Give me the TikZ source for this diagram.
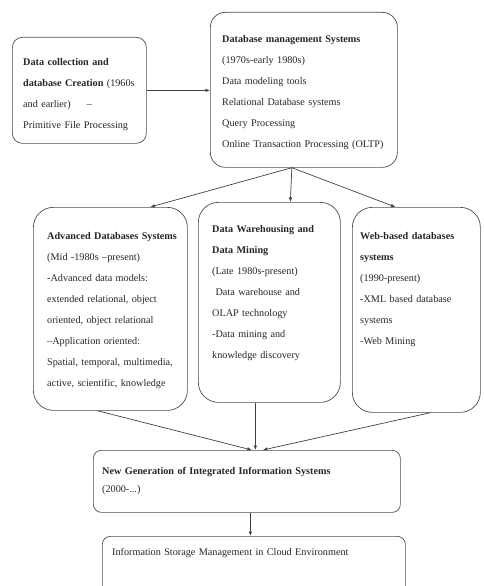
\documentclass[tikz,border=0pt]{standalone}
\usepackage{fontspec}
\setmainfont{Liberation Serif}
\usetikzlibrary{arrows.meta}

\tikzset{
  stage/.style={draw=black!70, line width=0.7pt, anchor=north west, inner sep=0pt},
  stagetext/.style={anchor=north west, inner sep=0pt, align=left, text width=330pt,
    font=\fontsize{10.2}{21}\selectfont, text=black!85},
  link/.style={draw=black!75, line width=0.7pt, -{Latex[length=4.5pt,width=3.6pt]}}
}

\begin{document}
\begin{tikzpicture}[x=1pt,y=-1pt]
\useasboundingbox (0,0) rectangle (483,586);
\clip (0,0) rectangle (483,586);

% first row
\node[stage, rounded corners=10pt, minimum width=134pt, minimum height=106pt] (collect) at (12,37) {};
\node[stagetext] (collect-t) at ([xshift=11pt,yshift=-21.5pt]collect.north west)
  {\textbf{Data collection and}\\ \textbf{database Creation} (1960s\\ and earlier)\hspace{16pt}–\\ Primitive File Processing};

\node[stage, rounded corners=15pt, minimum width=187pt, minimum height=155pt] (dbms) at (210,12) {};
\node[stagetext] (dbms-t) at ([xshift=12pt,yshift=-23pt]dbms.north west)
  {\textbf{Database management Systems}\\ (1970s-early 1980s)\\ Data modeling tools\\ Relational Database systems\\ Query Processing\\ Online Transaction Processing (OLTP)};

% second row
\node[stage, rounded corners=20pt, minimum width=154pt, minimum height=203pt] (adv) at (33,207) {};
\node[stagetext] (adv-t) at ([xshift=14pt,yshift=-25.5pt]adv.north west)
  {\textbf{Advanced Databases Systems}\\ (Mid -1980s –present)\\ -Advanced data models:\\ extended relational, object\\ oriented, object relational\\ –Application oriented:\\ Spatial, temporal, multimedia,\\ active, scientific, knowledge};

\node[stage, rounded corners=20pt, minimum width=142pt, minimum height=200pt] (dw) at (198,202) {};
\node[stagetext] (dw-t) at ([xshift=14pt,yshift=-23.5pt]dw.north west)
  {\textbf{Data Warehousing and}\\ \textbf{Data Mining}\\ (Late 1980s-present)\\ \ Data warehouse and\\ OLAP technology\\ -Data mining and\\ knowledge discovery};

\node[stage, rounded corners=20pt, minimum width=128pt, minimum height=205pt] (web) at (352,207) {};
\node[stagetext] (web-t) at ([xshift=8pt,yshift=-25.5pt]web.north west)
  {\textbf{Web-based databases}\\ \textbf{systems}\\ (1990-present)\\ -XML based database\\ systems\\ -Web Mining};

% last rows
\node[stage, rounded corners=8pt, minimum width=307pt, minimum height=62pt] (newgen) at (93,450) {};
\node[stagetext, font=\fontsize{10.2}{18}\selectfont] (newgen-t) at ([xshift=9pt,yshift=-17.5pt]newgen.north west)
  {\textbf{New Generation of Integrated Information Systems}\\ (2000-...)};

\node[stage, rounded corners=8pt, minimum width=303pt, minimum height=62pt] (cloud) at (102,536) {};
\node[stagetext] (cloud-t) at ([xshift=10pt,yshift=-12.5pt]cloud.north west)
  {Information Storage Management in Cloud Environment};

\draw[link] (collect.east) -- (collect.east -| dbms.west);

\coordinate (fork) at ([xshift=-12pt]dbms.south);
\draw[link] (fork) -- ([xshift=40pt]adv.north);
\draw[link] (fork) -- ([xshift=21pt]dw.north);
\draw[link] (fork) -- ([xshift=-21pt]web.north);

\draw[link] ([xshift=-13pt]adv.south) -- ([xshift=5pt]newgen.north);
\draw[link] ([xshift=-14pt]dw.south) -- ([xshift=8.5pt]newgen.north);
\draw[link] ([xshift=14pt]web.south) -- ([xshift=16pt]newgen.north);

\draw[link] ([xshift=3.5pt]newgen.south) -- ([xshift=3.5pt]newgen.south |- cloud.north);
\end{tikzpicture}
\end{document}
